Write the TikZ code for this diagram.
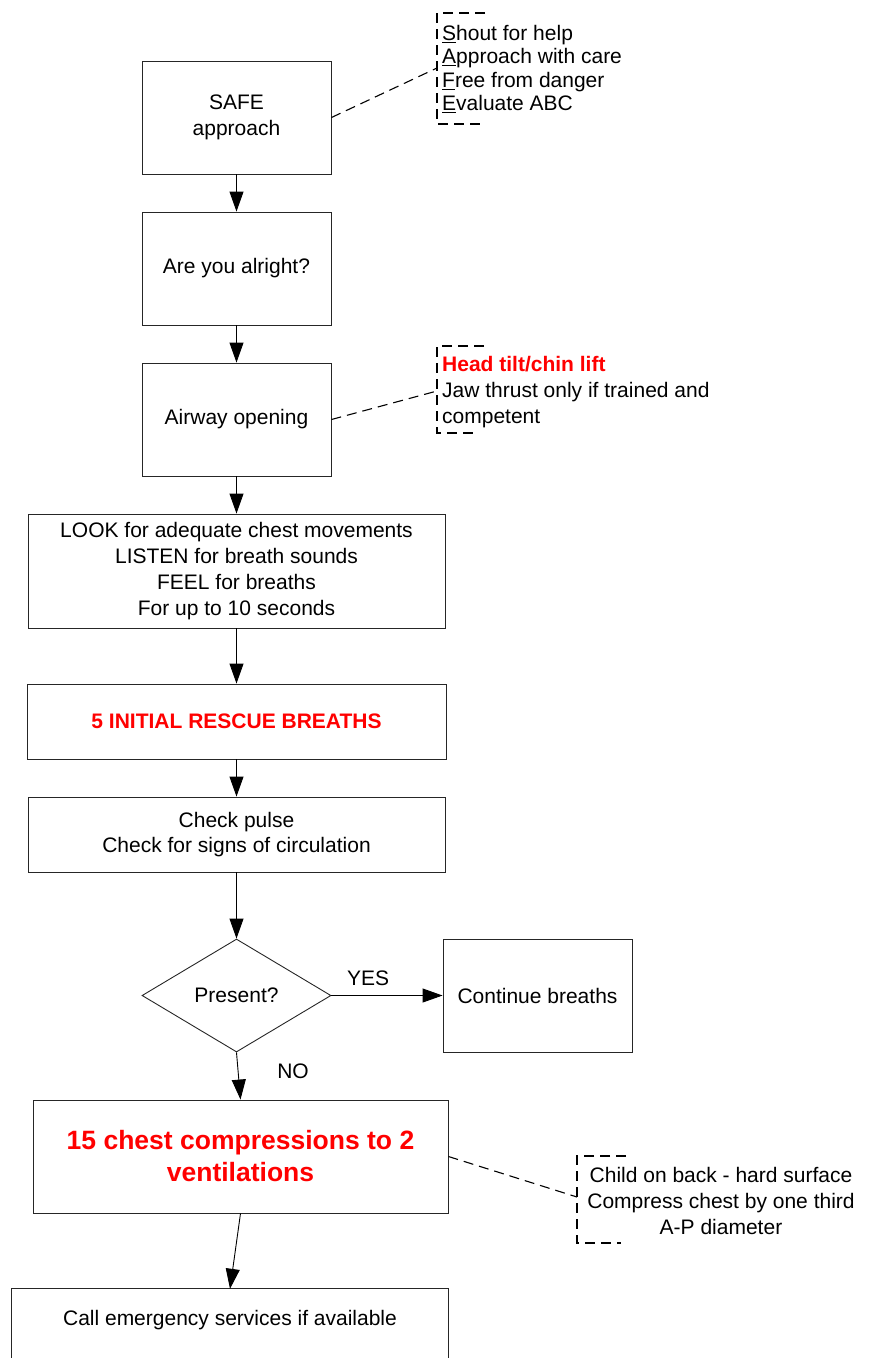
\documentclass[tikz,border=0pt]{standalone}
\usepackage{fontspec}
\setmainfont{Liberation Sans}
\usetikzlibrary{shapes.geometric,arrows.meta}
\definecolor{hired}{RGB}{255,0,0}
\tikzset{
  every node/.style={font=\fontsize{21}{25.5}\selectfont},
  box/.style={draw=black!85, line width=0.9pt, rectangle, inner sep=0pt, align=center},
  dec/.style={draw=black!85, line width=0.9pt, shape=diamond, aspect=1.67, inner sep=1pt, minimum width=189pt, minimum height=113pt},
  flow/.style={line width=0.9pt, -{Triangle[length=20pt,width=14pt]}},
  ann/.style={line width=1.1pt, dash pattern=on 10pt off 6pt},
  lbl/.style={inner sep=0pt},
}
\begin{document}
\begin{tikzpicture}[x=1pt,y=-1pt]
\useasboundingbox (0,0) rectangle (869,1358);
% main boxes
\node[box, minimum width=189pt, minimum height=113pt] (safe) at (236.5,117.5) {SAFE\\approach};
\node[box, minimum width=189pt, minimum height=113pt] (alright) at (236.5,268.5) {Are you alright?};
\node[box, minimum width=189pt, minimum height=113pt] (airway) at (236.5,419.5) {Airway opening};
\node[box, minimum width=417pt, minimum height=114pt, font=\fontsize{21}{26}\selectfont] (look) at (236.5,571) {LOOK for adequate chest movements\\LISTEN for breath sounds\\FEEL for breaths\\For up to 10 seconds};
\node[box, minimum width=419pt, minimum height=75pt, text=hired, font=\fontsize{21}{25.5}\selectfont\bfseries] (init) at (236.5,721.5) {5 INITIAL RESCUE BREATHS};
\node[box, minimum width=417pt, minimum height=75pt, font=\fontsize{21}{25}\selectfont] (pulse) at (236.5,834.5) {Check pulse\\Check for signs of circulation};
\node[dec] (present) at (236.5,995.5) {Present?};
\node[box, minimum width=189pt, minimum height=113pt] (cont) at (537.5,995.5) {Continue breaths};
\node[box, minimum width=415pt, minimum height=113pt, text=hired, font=\fontsize{26.5}{32}\selectfont\bfseries] (chest) at (240.5,1156.5) {15 chest compressions to 2\\ventilations};
\node[inner sep=0pt, minimum width=436pt, minimum height=62pt] (call) at (230,1320) {Call emergency services if available};
\draw[draw=black!85, line width=0.9pt] ([yshift=-30pt]call.south west) -- (call.north west) -- (call.north east) -- ([yshift=-30pt]call.south east);

% flow arrows
\draw[flow] (safe) -- (alright);
\draw[flow] (alright) -- (airway);
\draw[flow] (airway) -- (look);
\draw[flow] (look) -- (init);
\draw[flow] (init) -- (pulse);
\draw[flow] (pulse) -- (present);
\draw[flow] (present.east) -- node[lbl, pos=0.33, above=9pt] {YES} (cont.west);
\draw[flow] (present.south) -- (chest.north);
\node[lbl] (no) at (293,1071) {NO};
\draw[flow] (chest.south) -- (call.north);

% annotations
\coordinate (b1) at (437,68);
\draw[ann] (485,13) -- (437,13) -- (437,124) -- (485,124);
\draw[ann] (safe.east) -- (b1);
\node[lbl, anchor=west, align=left, font=\fontsize{21}{23.5}\selectfont] (safetxt) at (442,69) {\underline{S}hout for help\\\underline{A}pproach with care\\\underline{F}ree from danger\\\underline{E}valuate ABC};

\coordinate (b2) at (437,391);
\draw[ann] (484,346) -- (437,346) -- (437,433) -- (479,433);
\draw[ann] (airway.east) -- (b2);
\node[lbl, anchor=west, align=left, font=\fontsize{21}{26}\selectfont] (airtxt) at (442,392) {\textcolor{hired}{\bfseries Head tilt/chin lift}\\Jaw thrust only if trained and\\competent};

\coordinate (b3) at (577,1197);
\draw[ann] (626,1156) -- (577,1156) -- (577,1243) -- (621,1243);
\draw[ann] (chest.east) -- (b3);
\node[lbl, align=center, font=\fontsize{21}{26}\selectfont] (chesttxt) at (721,1200.5) {Child on back - hard surface\\Compress chest by one third\\A-P diameter};
\end{tikzpicture}
\end{document}
